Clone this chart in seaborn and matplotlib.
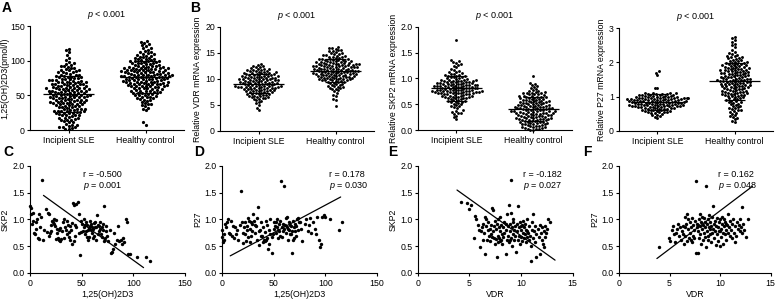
import numpy as np
import pandas as pd
import matplotlib
matplotlib.use("Agg")
import matplotlib.pyplot as plt
import seaborn as sns

# ---------------- data ----------------
groups = ["Incipient SLE", "Healthy control"]

vitd_sle = [1, 2, 3, 4, 5, 5, 6, 7, 8, 9,
            11, 12, 13, 14, 15, 15, 16, 17, 18, 18, 19,
            20, 21, 22, 22, 22, 23, 24, 24, 25, 25, 26, 26, 27, 27, 27, 28, 28, 29, 29,
            30, 31, 31, 31, 32, 33, 33, 33, 34, 35, 35, 36, 36, 37, 37, 38, 38, 39, 39, 39,
            40, 40, 41, 41, 41, 42, 42, 43, 43, 44, 44, 44, 45, 45, 46, 46, 46, 47, 47, 47, 48, 48, 49, 49, 49,
            50, 50, 50, 51, 51, 51, 52, 52, 53, 53, 53, 54, 54, 55, 55, 55, 56, 56, 57, 57, 57, 58, 58, 58,
            59, 59, 59,
            60, 60, 60, 61, 61, 61, 62, 62, 63, 63, 64, 64, 65, 65, 66, 66, 67, 67, 67, 68, 68, 69, 69,
            70, 70, 70, 71, 71, 72, 72, 72, 73, 74, 74, 75, 75, 76, 76, 77, 77, 78, 78, 79,
            80, 80, 81, 82, 83, 83, 84, 85, 86, 86, 87, 88, 89,
            90, 91, 92, 93, 94, 95, 96, 98,
            101, 104, 108, 112, 115, 117]
vitd_hc = [8, 11, 29, 31, 32, 34, 36, 37, 38, 39, 41, 42, 43, 44,
           45, 46, 46, 47, 48, 48, 49, 50, 50, 51, 52, 52, 53, 53, 54, 54,
           55, 55, 56, 56, 57, 57, 58, 58, 59, 59, 60, 60, 61, 61, 62, 62, 63, 63, 63, 64, 64, 64, 65, 65,
           66, 66, 66, 67, 67, 67, 68, 68, 68, 69, 69, 69, 70, 70, 70, 71, 71, 71, 72, 72, 72, 73, 73, 73,
           74, 74, 74, 75, 75, 75,
           76, 76, 76, 77, 77, 77, 78, 78, 78, 78, 79, 79, 79, 80, 80, 80, 80, 81, 81, 81, 82, 82, 82,
           83, 83, 83, 84, 84, 84, 85, 85, 85,
           86, 86, 86, 87, 87, 87, 88, 88, 88, 89, 89, 89, 90, 90, 90, 91, 91, 91, 92, 92, 93, 93, 94, 94, 95, 95,
           96, 96, 97, 97, 98, 98, 99, 99, 100, 100, 101, 101, 102, 102, 103, 104, 104, 105,
           106, 107, 107, 108, 109, 110, 111, 112, 113, 114,
           116, 118, 119, 121, 122, 124, 125, 127, 128]

vdr_sle = [4.0, 4.5, 5.0, 5.3, 5.6, 5.8,
           6.0, 6.1, 6.2, 6.3, 6.4, 6.5, 6.6, 6.7, 6.8, 6.9, 6.5, 6.8,
           7.0, 7.1, 7.1, 7.2, 7.2, 7.3, 7.3, 7.4, 7.5, 7.5, 7.6, 7.6, 7.7, 7.7, 7.8, 7.8, 7.9, 7.9,
           8.0, 8.0, 8.1, 8.1, 8.2, 8.2, 8.3, 8.3, 8.4, 8.4, 8.5, 8.5, 8.5, 8.6, 8.6, 8.7, 8.7, 8.8,
           8.8, 8.9, 8.9, 8.3, 8.6, 8.45,
           9.0, 9.0, 9.1, 9.1, 9.2, 9.2, 9.3, 9.3, 9.4, 9.4, 9.5, 9.5, 9.5, 9.6, 9.6, 9.7, 9.7, 9.8,
           9.8, 9.9, 9.9, 9.95, 9.25, 9.55, 9.85,
           10.0, 10.0, 10.1, 10.1, 10.2, 10.2, 10.3, 10.3, 10.4, 10.4, 10.5, 10.5, 10.6, 10.6, 10.7,
           10.7, 10.8, 10.8, 10.9, 10.9, 10.95, 10.25,
           11.0, 11.1, 11.1, 11.2, 11.3, 11.3, 11.4, 11.5, 11.5, 11.6, 11.7, 11.7, 11.8, 11.9, 11.9, 11.2,
           12.0, 12.1, 12.2, 12.3, 12.4, 12.5, 12.6, 12.8]
vdr_hc = [4.8, 6.0, 6.2, 6.8, 7.0, 7.3, 7.6, 7.8,
          8.0, 8.2, 8.3, 8.5, 8.6, 8.7, 8.8, 8.9, 8.4, 8.1,
          9.0, 9.1, 9.2, 9.3, 9.4, 9.5, 9.5, 9.6, 9.6, 9.7, 9.7, 9.8, 9.8, 9.9, 9.9, 9.95,
          10.0, 10.0, 10.1, 10.1, 10.2, 10.2, 10.3, 10.3, 10.4, 10.4, 10.5, 10.5, 10.6, 10.6, 10.7,
          10.7, 10.8, 10.8, 10.9, 10.9, 10.95, 10.25, 10.55, 10.85,
          11.0, 11.0, 11.1, 11.1, 11.2, 11.2, 11.3, 11.3, 11.4, 11.4, 11.5, 11.5, 11.5, 11.6, 11.6,
          11.7, 11.7, 11.8, 11.8, 11.9, 11.9, 11.95, 11.25, 11.45, 11.65, 11.85, 11.05, 11.35,
          12.0, 12.0, 12.1, 12.1, 12.2, 12.2, 12.3, 12.3, 12.4, 12.4, 12.5, 12.5, 12.5, 12.6, 12.6,
          12.7, 12.7, 12.8, 12.8, 12.9, 12.9, 12.95, 12.25, 12.45, 12.65, 12.85, 12.15,
          13.0, 13.0, 13.1, 13.1, 13.2, 13.2, 13.3, 13.3, 13.4, 13.4, 13.5, 13.5, 13.6, 13.6, 13.7,
          13.7, 13.8, 13.8, 13.9, 13.9,
          14.0, 14.1, 14.2, 14.3, 14.4, 14.5, 14.6, 14.7, 14.8, 14.9, 14.3, 14.6,
          15.0, 15.2, 15.3, 15.5, 15.6, 15.8, 15.9, 16.0, 16.1, 15.4]

skp2_sle = [1.74,
            1.22, 1.25, 1.28, 1.30, 1.31, 1.33, 1.35, 1.26,
            1.10, 1.12, 1.13, 1.15, 1.16, 1.18,
            1.00, 1.01, 1.02, 1.03, 1.04, 1.05, 1.06, 1.07, 1.08, 1.09, 1.02, 1.05,
            0.90, 0.90, 0.91, 0.91, 0.92, 0.92, 0.93, 0.93, 0.94, 0.94, 0.95, 0.95, 0.96, 0.96,
            0.97, 0.97, 0.98, 0.98, 0.99, 0.99, 0.93, 0.96,
            0.80, 0.80, 0.81, 0.81, 0.81, 0.82, 0.82, 0.83, 0.83, 0.83, 0.84, 0.84, 0.85,
            0.85, 0.85, 0.86, 0.86, 0.87, 0.87, 0.87, 0.88, 0.88, 0.89, 0.89, 0.89, 0.85,
            0.70, 0.70, 0.71, 0.71, 0.72, 0.72, 0.73, 0.73, 0.74, 0.74, 0.75, 0.75, 0.76, 0.76,
            0.77, 0.77, 0.78, 0.78, 0.79, 0.79, 0.72, 0.75, 0.78, 0.71, 0.74, 0.77, 0.73, 0.76,
            0.60, 0.61, 0.62, 0.62, 0.63, 0.64, 0.64, 0.65, 0.66, 0.66, 0.67, 0.68, 0.68, 0.69, 0.69, 0.63, 0.65, 0.67,
            0.50, 0.51, 0.53, 0.54, 0.55, 0.56, 0.57, 0.58, 0.59, 0.55,
            0.42, 0.44, 0.46, 0.47, 0.49,
            0.32, 0.33, 0.34, 0.35, 0.37, 0.38,
            0.22, 0.25, 0.28]
skp2_hc = [1.04, 0.92, 0.90,
           0.80, 0.82, 0.85, 0.88, 0.84,
           0.70, 0.71, 0.72, 0.73, 0.74, 0.75, 0.76, 0.72, 0.78, 0.71,
           0.60, 0.61, 0.61, 0.62, 0.63, 0.63, 0.64, 0.65, 0.65, 0.66, 0.67, 0.67, 0.68, 0.69, 0.69, 0.64,
           0.50, 0.51, 0.51, 0.52, 0.53, 0.53, 0.54, 0.55, 0.55, 0.56, 0.57, 0.57, 0.58, 0.59, 0.59,
           0.52, 0.56, 0.54,
           0.40, 0.40, 0.41, 0.41, 0.42, 0.42, 0.43, 0.43, 0.44, 0.44, 0.45, 0.45, 0.46, 0.46, 0.47,
           0.47, 0.48, 0.48, 0.49, 0.49, 0.45, 0.43,
           0.30, 0.30, 0.31, 0.31, 0.32, 0.32, 0.33, 0.33, 0.34, 0.34, 0.35, 0.35, 0.36, 0.36, 0.37,
           0.37, 0.38, 0.38, 0.39, 0.39, 0.35, 0.33, 0.37,
           0.20, 0.20, 0.21, 0.21, 0.22, 0.22, 0.23, 0.23, 0.24, 0.24, 0.25, 0.25, 0.26, 0.26, 0.27,
           0.27, 0.28, 0.28, 0.29, 0.29,
           0.10, 0.11, 0.11, 0.12, 0.12, 0.13, 0.13, 0.14, 0.15, 0.15, 0.16, 0.16, 0.17, 0.18, 0.18,
           0.19, 0.19,
           0.00, 0.01, 0.02, 0.02, 0.03, 0.04, 0.04, 0.05, 0.06, 0.06, 0.07, 0.08, 0.08, 0.09]

p27_sle = [1.75, 1.70, 1.62, 1.26, 1.24,
           1.00, 1.00, 1.01, 1.02, 1.02, 1.03, 1.04, 1.04, 1.05, 1.06, 1.06, 1.07, 1.08, 1.08,
           1.09, 1.10, 1.10, 1.11, 1.12,
           0.90, 0.90, 0.91, 0.91, 0.92, 0.92, 0.93, 0.93, 0.94, 0.94, 0.95, 0.95, 0.96, 0.96,
           0.97, 0.97, 0.98, 0.98, 0.99, 0.99, 0.93, 0.95, 0.97, 0.91,
           0.80, 0.80, 0.81, 0.81, 0.82, 0.82, 0.83, 0.83, 0.84, 0.84, 0.85, 0.85, 0.86, 0.86,
           0.87, 0.87, 0.88, 0.88, 0.89, 0.89, 0.83, 0.85, 0.87,
           0.70, 0.70, 0.71, 0.71, 0.72, 0.72, 0.73, 0.73, 0.74, 0.74, 0.75, 0.75, 0.76, 0.76,
           0.77, 0.77, 0.78, 0.78, 0.79, 0.79, 0.73, 0.76,
           0.60, 0.61, 0.62, 0.63, 0.64, 0.65, 0.66, 0.67, 0.68, 0.69, 0.62, 0.65, 0.68,
           0.50, 0.52, 0.53, 0.54, 0.55, 0.56, 0.57, 0.58, 0.59, 0.55,
           0.38, 0.40, 0.43, 0.46, 0.48]
p27_hc = [2.75, 2.70, 2.65, 2.60, 2.55, 2.50,
          2.45, 2.35, 2.30,
          2.00, 2.02, 2.04, 2.06, 2.08, 2.10, 2.12, 2.14, 2.16, 2.18, 2.20, 2.22, 2.24, 2.26, 2.05, 2.15,
          1.80, 1.81, 1.82, 1.83, 1.84, 1.85, 1.86, 1.87, 1.88, 1.89, 1.90, 1.91, 1.92, 1.93, 1.94, 1.95,
          1.96, 1.97, 1.98, 1.99,
          1.60, 1.61, 1.62, 1.63, 1.64, 1.65, 1.66, 1.67, 1.68, 1.69, 1.70, 1.70, 1.71,
          1.72, 1.73, 1.74, 1.75, 1.76, 1.77, 1.78, 1.78, 1.79,
          1.40, 1.41, 1.42, 1.43, 1.43, 1.44, 1.45, 1.46, 1.47, 1.47, 1.48, 1.49, 1.49,
          1.50, 1.51, 1.52, 1.53, 1.53, 1.54, 1.55, 1.56, 1.57, 1.57, 1.58, 1.59,
          1.20, 1.21, 1.22, 1.23, 1.24, 1.25, 1.26, 1.27, 1.28, 1.29, 1.30, 1.30, 1.31,
          1.32, 1.33, 1.34, 1.35, 1.36, 1.37, 1.38, 1.38, 1.39,
          1.00, 1.01, 1.02, 1.03, 1.04, 1.05, 1.06, 1.07, 1.08, 1.09, 1.10, 1.11, 1.12, 1.13, 1.14,
          1.15, 1.16, 1.17, 1.18, 1.19,
          0.80, 0.82, 0.84, 0.86, 0.88, 0.90, 0.92, 0.94, 0.96, 0.98, 0.85, 0.95,
          0.60, 0.62, 0.64, 0.66, 0.68, 0.70, 0.72, 0.74, 0.76, 0.78,
          0.40, 0.43, 0.46, 0.50, 0.53, 0.56, 0.58,
          0.25, 0.30, 0.34, 0.38]

# C: 1,25(OH)2D3 vs SKP2
c_vitd = [0, 0.5, 1, 2, 3, 4, 5, 6, 7, 8, 9, 10, 11, 12, 13, 14, 15, 3, 9, 6,
          16, 17, 18, 19, 20, 21, 22, 23, 24, 25, 26, 27, 28, 29, 30, 20, 23, 26, 28, 18, 25, 29,
          31, 32, 33, 34, 35, 36, 37, 38, 39, 40, 41, 42, 43, 44, 45, 46, 47, 48, 49, 50,
          33, 36, 39, 41, 43, 45, 47, 49, 38, 44,
          51, 52, 53, 54, 55, 56, 57, 58, 59, 60, 61, 62, 63, 64, 65, 66, 67, 68, 69, 70,
          71, 72, 73, 74, 75, 52, 54, 56, 58, 60, 62, 64, 66, 68, 70, 72, 74, 55, 59, 63,
          67, 71, 53, 57, 61,
          76, 77, 78, 79, 80, 81, 82, 84, 85, 86, 88, 89, 90, 91, 93, 94, 95, 97,
          104, 112, 116]
c_skp2 = [1.25, 1.10, 1.22, 0.92, 1.12, 0.74, 0.72, 0.95, 1.00, 0.66, 0.64, 0.86, 1.05, 1.74, 0.62,
          0.80, 1.20, 0.98, 1.10, 0.82,
          0.76, 1.12, 1.10, 0.74, 0.78, 0.98, 0.96, 0.92, 0.88, 0.99, 0.82, 0.66, 0.62, 0.60, 0.63,
          0.90, 1.00, 0.74, 0.80, 0.70, 0.64, 0.84,
          0.78, 0.95, 1.00, 0.85, 0.80, 0.72, 0.90, 0.77, 0.62, 0.80, 0.55, 1.30, 1.27, 0.70, 1.28,
          1.32, 1.10, 0.33, 0.76, 0.92,
          0.65, 0.98, 0.88, 0.94, 0.60, 0.85, 0.75, 0.98, 0.68, 0.90,
          0.78, 0.85, 0.72, 0.95, 0.90, 0.80, 0.68, 0.88, 0.92, 0.75, 0.83, 0.70, 0.86, 0.62, 1.08,
          0.90, 0.78, 0.95, 0.72, 0.85, 0.80, 1.25, 0.66, 0.88, 0.70, 1.00, 0.78, 0.62, 0.98, 0.86,
          0.93, 0.85, 0.72, 0.82, 0.68, 0.60, 0.78, 0.68, 0.80, 0.96, 0.88, 0.92, 0.90, 0.84, 0.65,
          0.60, 0.80, 0.38, 0.40, 0.45, 0.75, 0.55, 0.62, 0.88, 0.60, 0.62, 0.55, 0.65, 0.58, 1.00,
          0.95, 0.35, 0.35,
          0.30, 0.30, 0.22]
c_line_x = [13, 110]
c_line_y = [1.45, 0.10]

# D: 1,25(OH)2D3 vs P27
d_vitd = [0, 0, 1, 2, 3, 4, 5, 6, 7, 8, 9, 10, 11, 12, 13, 14, 15, 2,
          16, 17, 18, 19, 20, 21, 22, 23, 24, 25, 26, 27, 28, 29, 30, 20, 22, 25, 27, 29, 24, 28,
          31, 32, 33, 34, 35, 36, 37, 38, 39, 40, 41, 42, 43, 44, 45, 46, 47, 48, 49, 50,
          32, 34, 36, 38, 40, 42, 44, 46, 48, 50, 43, 47,
          51, 52, 53, 54, 55, 56, 57, 58, 59, 60, 61, 62, 63, 64, 65, 66, 67, 68, 69, 70,
          71, 72, 73, 74, 75, 52, 54, 56, 58, 60, 62, 64, 66, 68, 70, 72, 74, 55, 59, 63,
          67, 71, 53, 65, 69,
          76, 77, 78, 80, 81, 83, 84, 85, 86, 88, 90, 91, 92, 94, 95, 96, 97, 99,
          100, 105, 113, 116]
d_p27 = [0.68, 0.80, 0.58, 0.72, 0.92, 0.86, 0.95, 1.00, 0.75, 0.72, 0.97, 0.70, 0.88, 0.65,
         0.85, 0.72, 0.80, 0.62,
         0.62, 0.90, 1.53, 0.96, 0.75, 0.85, 0.95, 0.60, 0.88, 0.68, 0.98, 0.82, 0.70, 0.92, 1.10,
         0.56, 0.72, 1.02, 0.58, 0.78, 0.80, 0.95,
         0.98, 0.75, 0.88, 0.62, 1.23, 0.52, 0.80, 0.95, 0.70, 0.85, 0.62, 0.60, 0.98, 0.65, 0.45,
         0.80, 1.00, 0.38, 0.72, 0.82,
         0.90, 1.02, 0.78, 0.70, 0.58, 0.76, 0.90, 0.55, 0.68, 0.95, 0.62, 0.72,
         0.88, 0.75, 1.00, 0.80, 0.92, 0.70, 1.72, 0.85, 0.78, 1.62, 0.90, 0.75, 1.05, 0.82, 0.95,
         0.72, 0.88, 0.38, 0.98, 0.85, 0.92, 0.70, 1.00, 0.80, 0.95, 0.95, 0.65, 0.98, 0.68, 0.82,
         1.02, 0.62, 0.90, 0.78, 0.65, 0.88, 1.02, 0.78, 0.92, 0.86, 0.72, 0.78, 0.85, 0.80, 0.62,
         0.95, 0.82, 0.60, 0.92, 1.00, 0.78, 0.90, 1.02, 0.75, 0.95, 0.82, 0.72, 1.05, 0.62, 0.48,
         0.55, 1.05, 1.08,
         1.05, 1.00, 0.81, 0.95]
d_line_x = [8, 115]
d_line_y = [0.32, 1.42]

# E: VDR vs SKP2
e_vdr = [4.2, 4.8, 5.2, 5.5, 5.4, 5.8, 5.9, 6.0, 5.6, 5.0,
         6.1, 6.2, 6.3, 6.4, 6.5, 6.5, 6.6, 6.7, 6.8, 6.9, 7.0, 7.0, 7.1, 7.2, 7.2, 7.3, 7.3, 7.4,
         7.4, 7.5, 6.3, 6.8, 7.1, 6.6, 7.5,
         7.6, 7.6, 7.7, 7.7, 7.8, 7.8, 7.9, 7.9, 8.0, 8.0, 8.1, 8.1, 8.2, 8.2, 8.3, 8.3, 8.4, 8.4,
         8.5, 8.5, 8.6, 8.6, 8.7, 8.7, 8.8, 8.8, 8.9, 8.9, 9.0, 9.0, 9.0, 9.1, 9.1, 9.2, 9.2, 9.3,
         9.3, 9.4, 9.4, 9.5, 8.0, 8.5, 8.9, 9.2, 7.8,
         9.6, 9.6, 9.7, 9.7, 9.8, 9.8, 9.9, 9.9, 10.0, 10.0, 10.1, 10.1, 10.2, 10.2, 10.3, 10.3,
         10.4, 10.4, 10.5, 10.5, 10.6, 10.6, 10.7, 10.8, 10.8, 10.9, 11.0, 11.0, 10.0, 10.6,
         11.1, 11.1, 11.2, 11.2, 11.3, 11.4, 11.4, 11.5, 11.5, 11.6, 11.7, 11.8, 11.8, 11.9, 12.0,
         12.0, 12.1, 12.2, 12.3, 12.3, 12.4, 12.5, 12.6, 12.8, 12.2]
e_skp2 = [1.32, 1.30, 1.27, 1.06, 0.66, 0.90, 0.80, 0.48, 1.00, 1.20,
          0.78, 0.85, 0.92, 0.75, 0.35, 1.05, 0.88, 0.62, 0.95, 0.70, 0.82, 0.60, 0.90, 1.22, 0.68,
          0.78, 1.18, 0.65, 0.88, 0.55, 0.62, 0.80, 0.72, 1.00, 0.98,
          0.64, 0.82, 0.30, 0.92, 0.70, 0.58, 0.85, 0.65, 0.78, 1.05, 0.62, 0.90, 0.72, 0.55, 0.85,
          0.68, 0.95, 0.75, 0.35, 0.80, 0.62, 1.10, 0.88, 0.70, 1.27, 0.58, 0.78, 0.92, 1.74, 0.65,
          1.12, 0.85, 0.50, 0.72, 0.95, 0.62, 0.80, 0.88, 0.70, 0.40, 0.60, 0.92, 0.62, 1.00, 1.00,
          0.78, 0.92, 0.62, 1.25, 0.85, 0.70, 0.95, 0.55, 0.80, 0.68, 0.90, 0.60, 0.75, 0.98, 0.65,
          0.85, 0.72, 0.92, 0.58, 0.80, 0.68, 1.00, 0.75, 0.62, 0.88, 0.70, 0.22, 0.50, 0.88, 0.78,
          0.80, 0.95, 1.10, 0.65, 0.78, 0.58, 0.88, 0.30, 0.72, 0.82, 0.68, 0.35, 0.90, 0.75, 0.62,
          0.85, 0.55, 0.78, 0.88, 0.68, 0.75, 0.82, 1.00, 0.95, 0.48]
e_line_x = [3.8, 13.3]
e_line_y = [1.55, 0.24]

# F: VDR vs P27
f_vdr = [4.0, 4.9, 5.0, 5.2, 5.3, 5.5, 5.6, 5.8, 5.9, 6.0, 5.7, 5.4,
         6.1, 6.2, 6.3, 6.4, 6.5, 6.5, 6.6, 6.7, 6.7, 6.8, 6.9, 7.0, 7.0, 7.1, 7.2, 7.2, 7.3, 7.3,
         7.4, 7.5, 6.3, 6.8, 7.1, 6.5, 7.4,
         7.6, 7.6, 7.7, 7.7, 7.8, 7.8, 7.9, 7.9, 8.0, 8.0, 8.1, 8.1, 8.2, 8.2, 8.3, 8.3, 8.4, 8.4,
         8.5, 8.5, 8.6, 8.6, 8.7, 8.7, 8.8, 8.8, 8.9, 8.9, 9.0, 9.0, 9.1, 9.1, 9.2, 9.2, 9.3, 9.3,
         9.4, 9.4, 9.5, 9.5, 8.0, 8.5, 9.0, 7.8, 8.8,
         9.6, 9.6, 9.7, 9.7, 9.8, 9.8, 9.9, 9.9, 10.0, 10.0, 10.1, 10.1, 10.2, 10.2, 10.3, 10.3,
         10.4, 10.4, 10.5, 10.5, 10.6, 10.6, 10.7, 10.8, 10.8, 10.9, 11.0, 11.0, 10.0, 10.6,
         11.1, 11.2, 11.2, 11.3, 11.4, 11.5, 11.6, 11.7, 11.8, 11.9, 12.0, 12.0, 12.1, 12.2, 12.2,
         12.3, 12.4, 12.6, 12.8, 11.5]
f_p27 = [0.48, 0.65, 0.60, 0.80, 0.88, 0.58, 0.75, 0.92, 0.70, 0.85, 0.82, 0.72,
         0.62, 0.78, 0.88, 0.55, 1.05, 0.70, 0.92, 0.60, 1.10, 0.82, 0.65, 0.95, 0.75, 0.85, 1.02,
         0.58, 0.90, 0.70, 0.80, 0.98, 0.72, 1.00, 0.62, 0.85, 0.65,
         1.72, 0.38, 0.85, 0.92, 0.38, 0.78, 1.00, 0.65, 0.88, 0.72, 0.95, 0.55, 0.82, 1.05, 0.62,
         0.90, 0.75, 1.02, 0.85, 0.68, 1.62, 0.48, 0.92, 0.78, 1.00, 0.62, 0.85, 1.08, 0.72, 0.95,
         0.58, 0.88, 1.05, 0.75, 1.25, 0.82, 0.92, 0.65, 0.98, 0.78, 1.10, 0.95, 0.82, 0.90, 0.70,
         0.52, 0.88, 1.02, 0.72, 0.85, 0.60, 0.95, 0.78, 0.50, 1.00, 0.82, 0.68, 0.92, 1.05, 0.75,
         0.55, 0.88, 1.00, 0.72, 0.95, 0.80, 0.62, 0.90, 0.75, 1.10, 0.85, 0.70, 0.98, 0.78, 0.92,
         0.80, 0.92, 0.65, 1.00, 0.75, 0.88, 0.70, 0.95, 0.82, 0.90, 1.00, 0.78, 0.85, 1.24, 0.75,
         0.92, 0.80, 0.68, 1.00, 0.58]
f_line_x = [3.75, 13.2]
f_line_y = [0.27, 1.62]

corr_r = ["r = -0.500", "r = 0.178", "r = -0.182", "r = 0.162"]
corr_p = ["0.001", "0.030", "0.027", "0.048"]

# ---------------- style ----------------
sns.set_theme(style="ticks")
plt.rcParams["font.family"] = ["Liberation Sans", "DejaVu Sans"]
plt.rcParams["mathtext.fontset"] = "custom"
plt.rcParams["mathtext.it"] = "Liberation Sans:italic"
plt.rcParams["mathtext.rm"] = "Liberation Sans"
FS = 6.3
plt.rcParams.update({
    "axes.linewidth": 0.8,
    "xtick.major.width": 0.8, "ytick.major.width": 0.8,
    "xtick.major.size": 2.5, "ytick.major.size": 2.5,
    "xtick.major.pad": 1.5, "ytick.major.pad": 1.2,
    "xtick.labelsize": FS, "ytick.labelsize": FS,
    "axes.labelsize": FS, "axes.labelpad": 2,
    "xtick.color": "black", "ytick.color": "black",
    "axes.edgecolor": "black", "text.color": "black", "axes.labelcolor": "black",
})

fig = plt.figure(figsize=(7.78, 2.99), dpi=100)

top_pos = [(0.0386, 0.565, 0.198, 0.348), (0.2828, 0.562, 0.198, 0.348),
           (0.537, 0.565, 0.198, 0.345), (0.7956, 0.562, 0.198, 0.344)]
bot_pos = [(0.0386, 0.087, 0.199, 0.358), (0.2853, 0.087, 0.199, 0.358),
           (0.537, 0.087, 0.199, 0.358), (0.7956, 0.087, 0.195, 0.358)]

top_sets = [(vitd_sle, vitd_hc, [0, 50, 100, 150], "1,25(OH)2D3(pmol/l)", "{:.0f}", 2.3, 0.5),
            (vdr_sle, vdr_hc, [0, 5, 10, 15, 20], "Relative VDR mRNA expression", "{:.0f}", 2.05, 2),
            (skp2_sle, skp2_hc, [0, 0.5, 1.0, 1.5, 2.0], "Relative SKP2 mRNA expression", "{:.1f}", 2.05, 2),
            (p27_sle, p27_hc, [0, 1, 2, 3], "Relative P27 mRNA expression", "{:.0f}", 2.1, 2)]

for pos, (sle, hc, yt, ylab, fmt, msize, lpad) in zip(top_pos, top_sets):
    ax = fig.add_axes(pos)
    df = pd.DataFrame({"group": [groups[0]] * len(sle) + [groups[1]] * len(hc),
                       "value": list(sle) + list(hc)})
    sns.swarmplot(data=df, x="group", y="value", order=groups, color="black",
                  size=msize, linewidth=0, ax=ax, warn_thresh=1.0, clip_on=False)
    for i, vals in enumerate([sle, hc]):
        m = np.mean(vals)
        s = np.std(vals, ddof=1)
        ax.hlines(m, i - 0.33, i + 0.33, color="black", lw=0.9, zorder=5)
        ax.vlines(i, m - s, m + s, color="black", lw=0.9, zorder=5)
        ax.hlines([m - s, m + s], i - 0.14, i + 0.14, color="black", lw=0.9, zorder=5)
    ax.set_xlim(-0.5, 1.5)
    ax.set_ylim(yt[0], yt[-1])
    ax.set_yticks(yt)
    ax.set_yticklabels([fmt.format(v) for v in yt])
    ax.set_xlabel("")
    ax.set_ylabel(ylab, labelpad=lpad)
    sns.despine(ax=ax)
    ax.text(0.5, 1.05, r"$\it{p}$ < 0.001", transform=ax.transAxes,
            ha="center", va="bottom", fontsize=6.5)

bot_sets = [(c_vitd, c_skp2, c_line_x, c_line_y, [0, 50, 100, 150], "1,25(OH)2D3", "SKP2", 0.34),
            (d_vitd, d_p27, d_line_x, d_line_y, [0, 50, 100, 150], "1,25(OH)2D3", "P27", 0.69),
            (e_vdr, e_skp2, e_line_x, e_line_y, [0, 5, 10, 15], "VDR", "SKP2", 0.68),
            (f_vdr, f_p27, f_line_x, f_line_y, [0, 5, 10, 15], "VDR", "P27", 0.65)]

for k, (pos, (xv, yv, lx, ly, xt, xlab, ylab, tx)) in enumerate(zip(bot_pos, bot_sets)):
    ax = fig.add_axes(pos)
    sns.scatterplot(x=xv, y=yv, color="black", s=6, linewidth=0, ax=ax, clip_on=False)
    sns.lineplot(x=lx, y=ly, color="black", lw=0.9, ax=ax)
    ax.set_xlim(xt[0], xt[-1])
    ax.set_ylim(0, 2)
    ax.set_xticks(xt)
    ax.set_yticks([0, 0.5, 1.0, 1.5, 2.0])
    ax.set_yticklabels(["0.0", "0.5", "1.0", "1.5", "2.0"])
    ax.set_xlabel(xlab)
    ax.set_ylabel(ylab)
    sns.despine(ax=ax)
    ax.text(tx, 0.92, corr_r[k], transform=ax.transAxes, ha="left", va="center", fontsize=6.5)
    ax.text(tx, 0.81, r"$\it{p}$ = " + corr_p[k], transform=ax.transAxes,
            ha="left", va="center", fontsize=6.5)

letters = [("A", 0.002, 0.998), ("B", 0.245, 0.998),
           ("C", 0.004, 0.515), ("D", 0.249, 0.515), ("E", 0.499, 0.515), ("F", 0.750, 0.515)]
for t, x, y in letters:
    fig.text(x, y, t, fontsize=10, fontweight="bold", ha="left", va="top")

fig.savefig("out.png", dpi=100)
